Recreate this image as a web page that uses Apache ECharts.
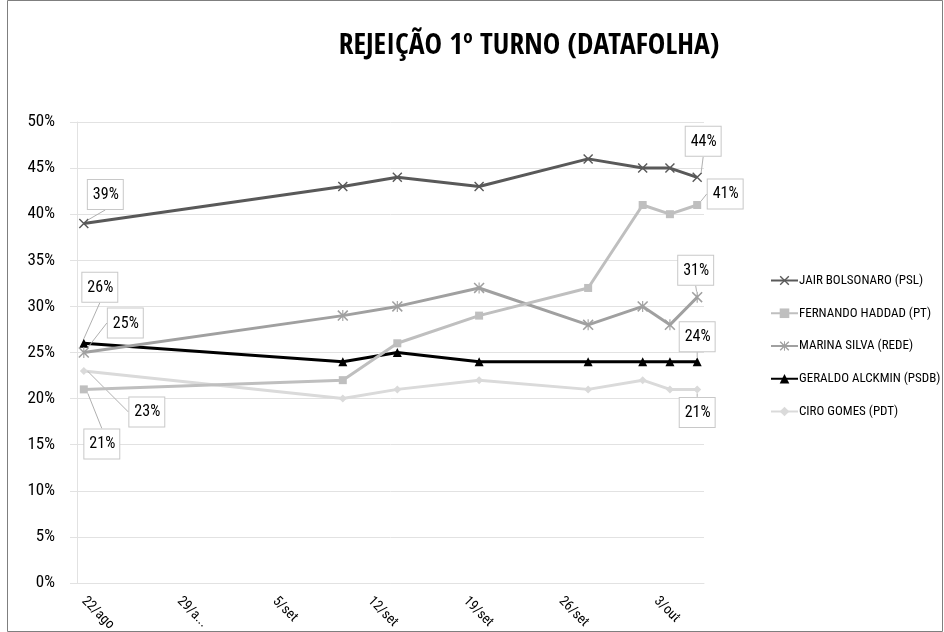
<!DOCTYPE html>
<html>
<head>
<meta charset="utf-8">
<script src="https://cdn.jsdelivr.net/npm/echarts@6/dist/echarts.min.js"></script>
<style>
html,body{margin:0;padding:0;background:#fff;}
#c{width:944px;height:632px;}
</style>
</head>
<body>
<div id="c"></div>
<script>
// ---- data ----
var pollDates = ['2018-08-22','2018-09-10','2018-09-14','2018-09-20','2018-09-28','2018-10-02','2018-10-04','2018-10-06'];
var bolsonaro = [39, 43, 44, 43, 46, 45, 45, 44];
var haddad    = [21, 22, 26, 29, 32, 41, 40, 41];
var marina    = [25, 29, 30, 32, 28, 30, 28, 31];
var alckmin   = [26, 24, 25, 24, 24, 24, 24, 24];
var ciro      = [23, 20, 21, 22, 21, 22, 21, 21];
var seriesNames = ['JAIR BOLSONARO (PSL)','FERNANDO HADDAD (PT)','MARINA SILVA (REDE)','GERALDO ALCKMIN (PSDB)','CIRO GOMES (PDT)'];
var tickDates  = ['2018-08-22','2018-08-29','2018-09-05','2018-09-12','2018-09-19','2018-09-26','2018-10-03'];
var tickLabels = ['22/ago','29/a...','5/set','12/set','19/set','26/set','3/out'];
var yTicks = [0,5,10,15,20,25,30,35,40,45,50];

// ---- helpers ----
var base = Date.parse(tickDates[0] + 'T00:00:00Z');
function dayOf(d){ return Math.round((Date.parse(d + 'T00:00:00Z') - base) / 86400000); }
var xs = pollDates.map(dayOf);
var tickXs = tickDates.map(dayOf);

var FONT = '"Roboto Condensed","Open Sans Condensed",sans-serif';
var TITLE_FONT = '"Open Sans Condensed","Roboto Condensed",sans-serif';

// styling: label offsets (label centre relative to point), per series [first, last]
var labelOffsets = [
  [[21.5,-29],[6,-36]],
  [[18,54.5],[28,-11]],
  [[41.5,-29.5],[-1.5,-27]],
  [[16,-56],[0,-25]],
  [[63,41],[0,23]]
];

var xPath = 'path://M0,1L1,0L10,9L9,10Z M9,0L10,1L1,10L0,9Z';
var starPath = 'path://M0,1L1,0L10,9L9,10Z M9,0L10,1L1,10L0,9Z M4.5,0L5.5,0L5.5,10L4.5,10Z';
var styles = [
  {color:'#595959', symbol:xPath, size:10},
  {color:'#bfbfbf', symbol:'rect', size:8},
  {color:'#a0a0a0', symbol:starPath, size:11},
  {color:'#000000', symbol:'triangle', size:9},
  {color:'#dadada', symbol:'diamond', size:8}
];
var values = [bolsonaro, haddad, marina, alckmin, ciro];

function buildData(arr){
  return arr.map(function(v,i){
    return {value:[xs[i], v], label:{show: i===0 || i===arr.length-1}};
  });
}

var series = values.map(function(arr, s){
  return {
    name: seriesNames[s],
    type: 'line',
    data: buildData(arr),
    symbol: styles[s].symbol,
    symbolSize: styles[s].size,
    showAllSymbol: true,
    z: 10 - s,
    lineStyle: {color: styles[s].color, width: 3},
    itemStyle: {color: styles[s].color},
    label: {
      show: false,
      position: 'top',
      formatter: function(p){ return p.value[1] + '%'; },
      fontFamily: FONT,
      fontSize: 16,
      lineHeight: 18,
      color: '#000',
      backgroundColor: '#fff',
      borderColor: '#c8c8c8',
      borderWidth: 1,
      padding: [6,4,5,5]
    },
    labelLine: {show: true, lineStyle: {color: '#b0b0b0', width: 1}},
    labelLayout: function(p){
      var off = labelOffsets[p.seriesIndex][p.dataIndex === 0 ? 0 : 1];
      var px = p.rect.x + p.rect.width/2, py = p.rect.y + p.rect.height/2;
      var lx = p.labelRect.x + p.labelRect.width/2, ly = p.labelRect.y + p.labelRect.height/2;
      return {dx: px + off[0] - lx, dy: py + off[1] - ly};
    },
    emphasis: {disabled: true},
    animation: false
  };
});

var chart = echarts.init(document.getElementById('c'), null, {renderer:'canvas'});
chart.setOption({
  animation: false,
  backgroundColor: '#fff',
  title: {
    text: 'REJEIÇÃO 1º TURNO (DATAFOLHA)',
    left: 524, top: 26, textAlign: 'center',
    textStyle: {fontFamily: TITLE_FONT, fontWeight: 'bold', fontSize: 29.5, color: '#000'}
  },
  legend: {
    orient: 'vertical',
    left: 770, top: 274, padding: 0,
    itemWidth: 27, itemHeight: 12, itemGap: 19.75,
    textStyle: {fontFamily: FONT, fontSize: 13, color: '#000', padding:[0,0,0,-4]},
    data: seriesNames
  },
  grid: {left: 77, right: 240, top: 122, bottom: 49, outerBoundsMode: 'none', containLabel: false},
  xAxis: {
    type: 'value',
    min: -0.5, max: 45.5,
    splitLine: {show: false},
    axisLine: {show: true, onZero: false, lineStyle: {color: '#e2e2e2', width: 1}},
    axisTick: {show: false},
    axisLabel: {
      customValues: tickXs,
      rotate: -45,
      margin: 16,
      fontFamily: FONT, fontSize: 14, color: '#000',
      formatter: function(v){ var i = tickXs.indexOf(v); return i >= 0 ? tickLabels[i] : ''; }
    }
  },
  yAxis: {
    type: 'value',
    min: 0, max: 50, interval: 5,
    axisLine: {show: true, onZero: false, lineStyle: {color: '#e2e2e2'}},
    axisTick: {show: true, length: 7, lineStyle: {color: '#e2e2e2'}},
    splitLine: {show: true, lineStyle: {color: '#e2e2e2', width: 1}},
    axisLabel: {
      margin: 22,
      fontFamily: FONT, fontSize: 17, color: '#000',
      formatter: function(v){ return yTicks.indexOf(v) >= 0 ? v + '%' : ''; }
    }
  },
  graphic: [{
    type: 'rect', silent: true, z: 100,
    shape: {x: 7.5, y: 0.5, width: 935, height: 631},
    style: {fill: 'none', stroke: '#7f7f7f', lineWidth: 1}
  }],
  series: series
});
</script>
</body>
</html>
